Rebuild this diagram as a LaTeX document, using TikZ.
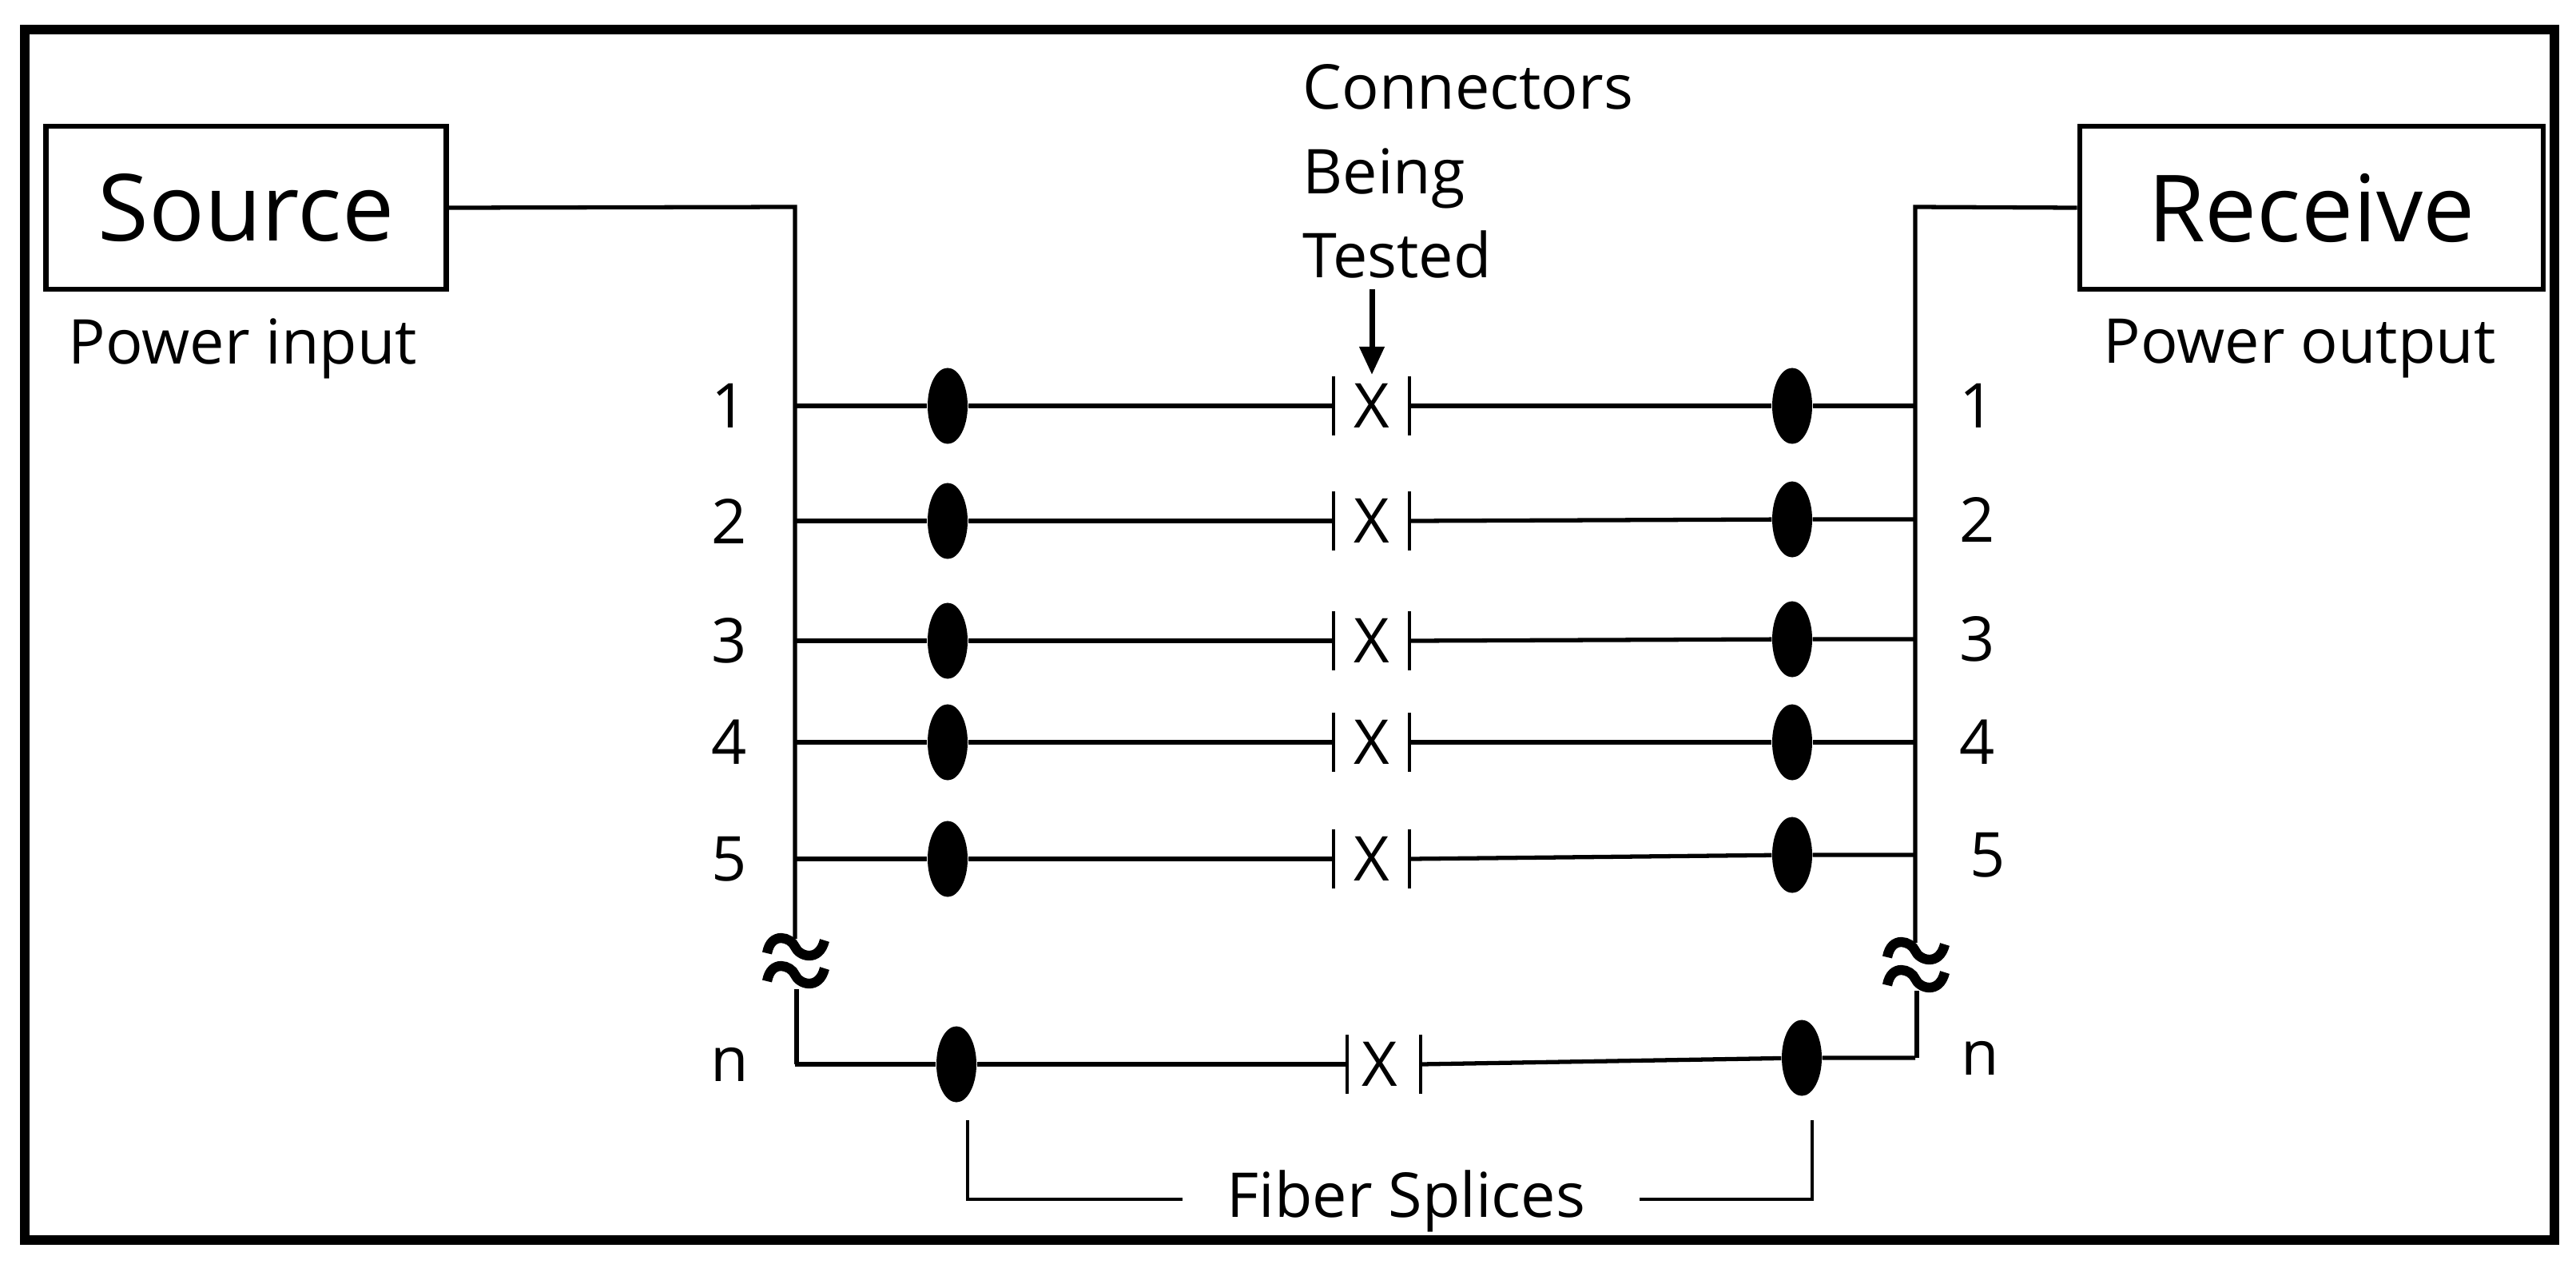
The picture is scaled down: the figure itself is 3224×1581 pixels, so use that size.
\documentclass[tikz,border=0pt]{standalone}
\usepackage{fontspec}
\setmainfont{Open Sans}
\usetikzlibrary{shapes.geometric,arrows.meta}
\begin{document}
\begin{tikzpicture}[x=0.01cm,y=-0.01cm,
  wire/.style={line width=1.5pt},
  sp/.style={ellipse,fill=black,minimum width=0.5cm,minimum height=0.95cm,inner sep=0pt},
  box/.style={draw,line width=1.8pt,minimum width=5.01cm,minimum height=2.04cm,font=\fontsize{33}{38}\selectfont},
  lab/.style={font=\fontsize{22}{27}\selectfont},
  num/.style={font=\fontsize{22}{27}\selectfont},
  wave/.style={line width=3.5pt}]
\useasboundingbox (0,0) rectangle (3224,1581);
\draw[line width=3.5pt] (31,37) rectangle (3197,1552);
\node[box] (src) at (308,260) {Source};
\node[box,minimum width=5.8cm] (rcv) at (2893,260) {Receive};
\node[lab] (pin) at (304,436) {Power input};
\node[lab] (pout) at (2878,436) {Power output};
\node[lab,align=left,anchor=north west,inner sep=0pt] (ct) at (1630,80) {Connectors\\[3pt]Being\\[3pt]Tested};
\coordinate (at) at (1717,362);
\coordinate (ah) at (1717,469);
\draw[line width=2pt,-{Triangle[length=0.35cm,width=0.3cm]}] (at) -- (ah);
% bus lines
\coordinate (L0) at (559,259); \coordinate (L1) at (995,259);
\coordinate (L2) at (995,1175); \coordinate (L3) at (997,1238); \coordinate (L4) at (997,1332);
\draw[wire] (src.east) -- (L1) -- (L2);
\draw[wire] (L3) -- (L4);
\coordinate (R1) at (2397,259); \coordinate (R2) at (2397,1180);
\coordinate (R3) at (2399,1240); \coordinate (R4) at (2399,1324);
\draw[wire] (rcv.west) -- (R1) -- (R2);
\draw[wire] (R3) -- (R4);
% waves
\foreach \x/\y in {995/1185,995/1220,2397/1190,2397/1225}{
  \draw[wave] (\x-35,\y+8) .. controls (\x-30,\y-20) and (\x-5,\y-12) .. (\x,\y) .. controls (\x+5,\y+12) and (\x+30,\y+20) .. (\x+37,\y-8);
}
% rows
\foreach \i/\y/\yr/\lx/\rx/\lb/\rb/\cx/\rl in {1/508/508/1186/2243/1669/1764/1717/2475,2/652/650/1186/2243/1669/1764/1717/2475,3/802/800/1186/2243/1669/1764/1717/2475,4/929/929/1186/2243/1669/1764/1717/2475,5/1075/1070/1186/2243/1669/1764/1717/2488,n/1332/1324/1197/2255/1686/1778/1727/2478}{
  \coordinate (a\i) at (995,\y);
  \coordinate (b\i) at (2397,\yr);
  \node[sp] (sl\i) at (\lx,\y) {};
  \node[sp] (sr\i) at (\rx,\yr) {};
  \coordinate (cl\i) at (\lb,\y);
  \coordinate (cr\i) at (\rb,\y);
  \node[font=\fontsize{22}{26}\selectfont] (x\i) at (\cx,\y) {X};
  \draw[line width=1.3pt] (\lb,\y-37) -- (\lb,\y+37);
  \draw[line width=1.3pt] (\rb,\y-37) -- (\rb,\y+37);
  \draw[wire] (a\i) -- (sl\i) -- (cl\i);
  \draw[wire] (cr\i) -- (sr\i) -- (b\i);
  \node[num] (nl\i) at (913,\y) {\i};
  \node[num] (nr\i) at (\rl,\yr) {\i};
}
% fiber splices bracket
\node[lab] (fs) at (1760,1503) {Fiber Splices};
\coordinate (f1) at (1211,1402); \coordinate (f2) at (1211,1501); \coordinate (f3) at (1480,1501);
\coordinate (g1) at (2268,1402); \coordinate (g2) at (2268,1501); \coordinate (g3) at (2052,1501);
\draw[line width=1.2pt] (f1) -- (f2) -- (f3);
\draw[line width=1.2pt] (g1) -- (g2) -- (g3);
\end{tikzpicture}
\end{document}
